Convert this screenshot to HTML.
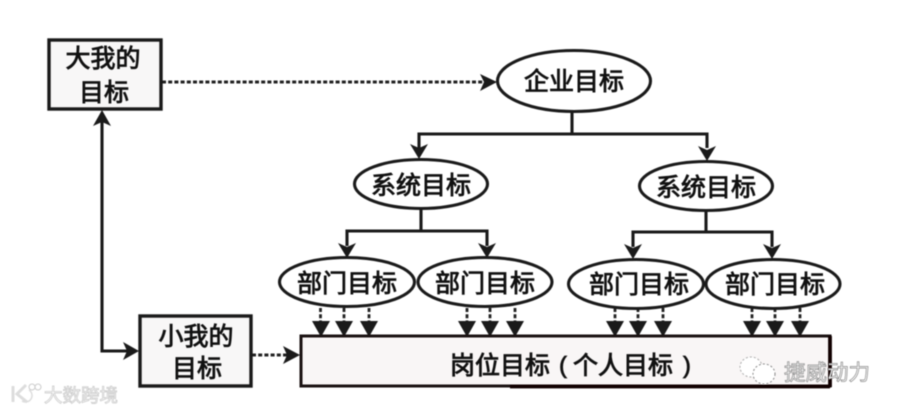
<!DOCTYPE html>
<html lang="zh"><head><meta charset="utf-8"><style>
html,body{margin:0;padding:0;background:#fff;width:900px;height:412px;overflow:hidden}
svg{display:block}
text{font-family:"Liberation Sans","Noto Sans CJK SC",sans-serif}
.t{font-size:25px;fill:#111;stroke:#111;stroke-width:.85;text-anchor:middle}
.l{fill:none;stroke:#1a1a1a;stroke-width:3.1}
.d{fill:none;stroke:#222;stroke-width:3;stroke-dasharray:4 2.2}
.e{fill:#fff;stroke:#1a1a1a;stroke-width:3.1}
.a{fill:#1a1a1a}
</style></head><body>
<svg width="900" height="412" viewBox="0 0 900 412" xmlns="http://www.w3.org/2000/svg">
<rect width="900" height="412" fill="#fff"/>
<g style="filter:blur(.45px)">
<!-- connectors -->
<path class="d" d="M162 82H484"/>
<path class="a" d="M497 82L480 74L484 82L480 91Z"/>
<path class="l" d="M572 112V134M419 148V134H707V148"/>
<path class="a" d="M419 159L410 144L419 148L428 144Z"/>
<path class="a" d="M707 161L698 146L707 150L716 146Z"/>
<path class="l" d="M421 209V231M347 246V231H487V246"/>
<path class="a" d="M347 258L338 243L347 247L356 243Z"/>
<path class="a" d="M487 258L478 243L487 247L496 243Z"/>
<path class="l" d="M706 211V232M633 247V232H772V247"/>
<path class="a" d="M633 259L624 244L633 248L642 244Z"/>
<path class="a" d="M772 259L763 244L772 248L781 244Z"/>
<path class="l" d="M102 122V351H127"/>
<path class="a" d="M102 110L93 126L102 122L111 126Z"/>
<path class="a" d="M139 351L123 342L127 351L123 360Z"/>
<path class="d" d="M252 355H288"/>
<path class="a" d="M300 355L283 346L287 355L283 364Z"/>
<!-- dashed drops -->
<path class="d" style="stroke-width:2.800" d="M320.500 308V324M344 308V324M369 308V324M467 308V324M490 308V324M515 308V324M615 308V324M638 308V324M663 308V324M752 308V324M775 308V324M800 308V324"/>
<g class="a">
<path d="M312 321H330L321 337Z"/><path d="M335 321H353L344 337Z"/><path d="M360 321H378L369 337Z"/>
<path d="M458 321H476L467 337Z"/><path d="M481 321H499L490 337Z"/><path d="M506 321H524L515 337Z"/>
<path d="M606 321H624L615 337Z"/><path d="M629 321H647L638 337Z"/><path d="M654 321H672L663 337Z"/>
<path d="M743 321H761L752 337Z"/><path d="M766 321H784L775 337Z"/><path d="M791 321H809L800 337Z"/>
</g>
<!-- boxes -->
<rect x="49" y="40" width="112" height="69" fill="#f8f7f7" stroke="#1a1a1a" stroke-width="3.400"/>
<rect x="140" y="316" width="111" height="70" fill="#f8f7f7" stroke="#1a1a1a" stroke-width="3.400"/>
<rect x="301" y="336" width="529" height="50" fill="#f9f6f6" stroke="#1a1212" stroke-width="3"/>
<path d="M510 386.500H830M830 336V387" fill="none" stroke="#100" stroke-width="3.800"/>
<!-- ellipses -->
<ellipse class="e" cx="574" cy="81" rx="76.500" ry="30.500"/>
<ellipse class="e" cx="421" cy="184" rx="66.500" ry="24.500"/>
<ellipse class="e" cx="706" cy="186" rx="66.500" ry="24.500"/>
<ellipse class="e" cx="347" cy="282" rx="67.500" ry="24.500"/>
<ellipse class="e" cx="485" cy="282" rx="67" ry="24.500"/>
<ellipse class="e" cx="636" cy="284" rx="67.500" ry="24.500"/>
<ellipse class="e" cx="773" cy="284" rx="67" ry="24.500"/>
<!-- labels -->
<text class="t" x="103" y="67">大我的</text>
<text class="t" x="104" y="101">目标</text>
<text class="t" x="196" y="345">小我的</text>
<text class="t" x="197" y="377">目标</text>
<text class="t" x="574" y="90">企业目标</text>
<text class="t" x="421" y="194">系统目标</text>
<text class="t" x="706" y="196">系统目标</text>
<text class="t" x="347" y="292">部门目标</text>
<text class="t" x="485" y="292">部门目标</text>
<text class="t" x="639" y="293">部门目标</text>
<text class="t" x="775" y="293">部门目标</text>
<text class="t" x="500" y="374">岗位目标</text>
<text class="t" x="563" y="373" style="font-size:23px;font-family:'Liberation Sans',sans-serif">(</text>
<text class="t" x="623" y="374">个人目标</text>
<text class="t" x="687" y="373" style="font-size:23px;font-family:'Liberation Sans',sans-serif">)</text>
</g>
<!-- watermarks -->
<g style="filter:blur(.5px)">
<text x="44" y="402" style="font-size:18.500px;fill:#fff;stroke:#ccc;stroke-width:.8">大数跨境</text>
<path d="M13 386V402M26 385L17 394L27 402" fill="none" stroke="#ddd" stroke-width="3"/>
<path d="M29 390A6.500 6.500 0 1 1 22 401" fill="none" stroke="#ddd" stroke-width="1.500"/>
<circle cx="32" cy="387" r="3" fill="#fff" stroke="#ccc"/><circle cx="38" cy="387" r="3" fill="#fff" stroke="#ccc"/>
<text x="784" y="380" style="font-size:21.500px;fill:#fff;stroke:#888;stroke-width:.7">捷威动力</text>
<ellipse cx="751" cy="367" rx="11" ry="10" fill="#fff" stroke="#aaa" stroke-dasharray="2 2"/>
<ellipse cx="764" cy="374" rx="11" ry="10" fill="#fff" stroke="#888" stroke-dasharray="2 2"/>
</g>
</svg>
</body></html>
